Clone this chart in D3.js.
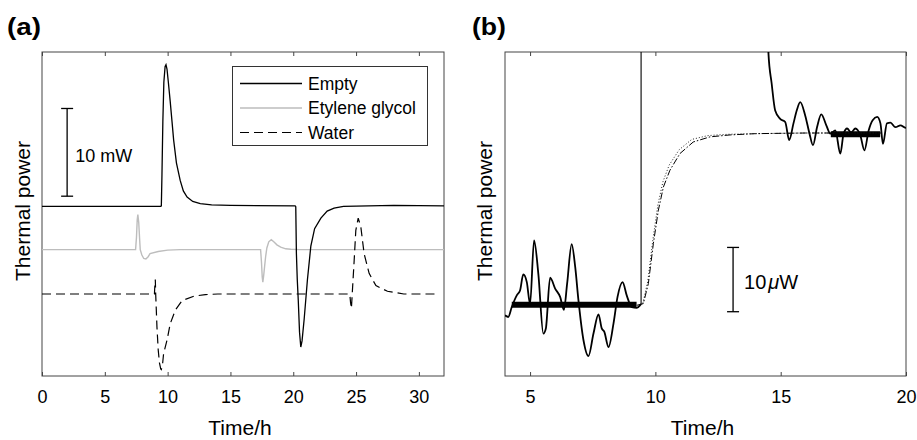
<!DOCTYPE html>
<html>
<head>
<meta charset="utf-8">
<script src="https://cdn.jsdelivr.net/npm/d3@7"></script>
<style>
  body { margin: 0; background: #fff; }
  svg text { font-family: "Liberation Sans", Arial, Helvetica, sans-serif; fill: #000; }
</style>
</head>
<body>
<div class="plot"></div>
<script>
// ---------- panel (a) : thermal power (mW, offset curves) vs time (h) ----------
var emptyTime = [0, 9.45, 9.5, 9.55, 9.62, 9.7, 9.8, 9.87, 9.95, 10.05, 10.2, 10.35, 10.48, 10.7, 11.0, 11.25, 11.55, 12.0, 12.6, 13.5, 15,
  20.15, 20.2, 20.25, 20.32, 20.4, 20.5, 20.6, 20.7, 20.87, 21.13, 21.4, 21.7, 22.2, 22.7, 23.25, 24, 28, 32];
var emptyPower = [19.35, 19.35, 19.4, 23, 29, 33.5, 35.3, 35.5, 35.0, 33.6, 31.4, 29.0, 26.9, 24.3, 22.3, 21.1, 20.4, 19.9, 19.66, 19.5, 19.45,
  19.4, 19.3, 14, 11, 8.6, 5, 3.3, 4.0, 6.5, 11, 14.8, 16.8, 18.0, 18.8, 19.15, 19.35, 19.45, 19.4];

var glycolTime = [0, 7.45, 7.52, 7.58, 7.63, 7.7, 7.78, 7.82, 7.95, 8.1, 8.27, 8.45, 8.6, 9.25, 10, 11,
  17.4, 17.47, 17.53, 17.58, 17.65, 17.72, 17.8, 17.9, 18.05, 18.25, 18.45, 18.7, 19.0, 19.4, 19.8, 20.5, 32];
var glycolPower = [14.41, 14.41, 15.8, 17.8, 18.4, 17.5, 15.4, 14.4, 13.8, 13.4, 13.35, 13.6, 13.96, 14.2, 14.35, 14.41,
  14.41, 13.0, 11.3, 10.7, 11.5, 12.5, 13.6, 14.6, 15.3, 15.55, 15.3, 14.95, 14.7, 14.5, 14.45, 14.41, 14.41];

var waterTime = [0, 8.95, 8.99, 9.02, 9.05, 9.1, 9.15, 9.25, 9.35, 9.45, 9.5, 9.6, 9.68, 9.95, 10.21, 10.61, 11.15, 12.1, 13, 14,
  24.5, 24.56, 24.63, 24.7, 24.85, 24.98, 25.17, 25.38, 25.64, 26.04, 26.58, 27.5, 28.8, 31.6];
var waterPower = [9.35, 9.35, 10.5, 11.0, 9.35, 7.5, 5.6, 3.0, 1.5, 0.8, 0.73, 1.4, 2.55, 4.07, 5.97, 7.5, 8.6, 9.1, 9.28, 9.35,
  9.35, 8.4, 7.7, 9.5, 13.2, 16.6, 18.0, 17.0, 13.96, 11.7, 10.3, 9.66, 9.35, 9.35];

var legendLabels = ["Empty", "Etylene glycol", "Water"];
var timeTicksA = [0, 5, 10, 15, 20, 25, 30];
var scaleBarA = { time: 2.0, from: 20.5, length: 10, label: "10 mW" };

// ---------- panel (b) : zoom on baseline, thermal power in µW ----------
var noiseTimeA = [4.0, 4.13, 4.27, 4.47, 4.6, 4.73, 4.87, 5.0, 5.16, 5.33, 5.53, 5.63, 5.8, 6.0, 6.2, 6.35, 6.48, 6.66, 6.8, 6.93, 7.13,
  7.33, 7.53, 7.73, 7.86, 7.96, 8.13, 8.33, 8.49, 8.69, 8.86, 9.06, 9.26, 9.39, 9.43];
var noisePowerA = [9.44, 9.18, 10.74, 12.55, 13.3, 15.8, 14.6, 11.2, 21.1, 15.9, 6.6, 7.4, 15.3, 13.6, 12.3, 10.3, 14.4, 20.5, 17.0, 11.8, 5.6,
  3.1, 6.6, 9.6, 7.4, 6.9, 4.5, 8.2, 12.3, 14.6, 12.5, 10.7, 10.6, 11.0, 11.2];
var jumpTime = [9.43, 9.43];
var jumpPower = [11.2, 60];

var noiseTimeB = [14.5, 14.51, 14.64, 14.78, 14.98, 15.18, 15.34, 15.51, 15.64, 15.78, 15.98, 16.15, 16.29, 16.45, 16.62, 16.82, 16.98,
  17.18, 17.38, 17.51, 17.65, 17.81, 17.98, 18.18, 18.34, 18.51, 18.67, 18.85, 18.98, 19.08, 19.24, 19.38, 19.58, 19.78, 19.98, 20];
var noisePowerB = [55, 50.3, 45.5, 41.3, 40.0, 39.5, 36.7, 39.3, 41.3, 42.6, 40.5, 37.7, 35.9, 38.7, 40.7, 39.0, 37.7,
  38.2, 34.6, 37.7, 38.5, 37.9, 38.5, 37.4, 35.1, 38.2, 39.8, 40.3, 39.3, 36.1, 39.3, 39.4, 38.7, 39.0, 38.6, 38.7];

// fitted curve (dash-dot) and model curve (dotted)
var fitTime = [9.26, 9.52, 9.72, 9.92, 10.12, 10.32, 10.58, 10.98, 11.51, 12.18, 12.98, 14, 16, 19];
var fitPower = [11.0, 11.26, 14.37, 20.6, 25.8, 29.4, 32.0, 34.6, 36.4, 37.2, 37.5, 37.7, 37.8, 37.8];
var modelTime = [9.5, 9.7, 9.9, 10.1, 10.3, 10.55, 10.95, 11.45, 12.1, 12.9, 14, 16, 19];
var modelPower = [11.3, 14.8, 21.2, 26.6, 30.2, 32.8, 35.2, 36.8, 37.4, 37.6, 37.7, 37.8, 37.8];

// thick baseline segments
var baselineStart = [4.27, 17.0];
var baselineEnd = [9.25, 18.97];
var baselineLevel = [11.1, 37.6];

var timeTicksB = [5, 10, 15, 20];
var scaleBarB = { time: 13.1, from: 10.0, length: 10 };

// ---------- layout ----------
var width = 917, height = 440;
var plotTop = 52, plotBottom = 376;

var svg = d3.select(".plot")
  .append("svg")
  .attr("width", width)
  .attr("height", height);

var line = function (x, y) {
  return d3.line()
    .x(function (d) { return x(d[0]); })
    .y(function (d) { return y(d[1]); });
};

// draws the box, ticks, labels of a panel and returns its clipped group
function drawFrame(id, x, ticks, letter, letterX, ylabelX) {
  var left = x.range()[0], right = x.range()[1];

  svg.append("clipPath").attr("id", id)
    .append("rect")
    .attr("x", left).attr("y", plotTop)
    .attr("width", right - left).attr("height", plotBottom - plotTop);

  // bottom axis, ticks pointing inward
  var bottom = svg.append("g")
    .attr("transform", "translate(0," + plotBottom + ")")
    .call(d3.axisBottom(x).tickValues(ticks).tickSizeInner(-4).tickSizeOuter(0).tickPadding(14));
  bottom.select(".domain").remove();
  bottom.selectAll("line").attr("stroke", "#444");
  bottom.selectAll("text").attr("font-size", 18).attr("fill", "#1a1a1a");

  // top axis mirrored ticks
  var top = svg.append("g")
    .attr("transform", "translate(0," + plotTop + ")")
    .call(d3.axisTop(x).tickValues(ticks).tickSizeInner(-4).tickSizeOuter(0).tickFormat(""));
  top.select(".domain").remove();
  top.selectAll("line").attr("stroke", "#444");

  // box
  svg.append("rect")
    .attr("x", left).attr("y", plotTop)
    .attr("width", right - left).attr("height", plotBottom - plotTop)
    .attr("fill", "none")
    .attr("stroke", "#444")
    .attr("stroke-width", 1);

  // axis labels
  svg.append("text")
    .attr("x", (left + right) / 2 - 3)
    .attr("y", 435)
    .attr("text-anchor", "middle")
    .attr("font-size", 21)
    .text("Time/h");

  svg.append("text")
    .attr("transform", "translate(" + ylabelX + "," + ((plotTop + plotBottom) / 2 - 3) + ") rotate(-90)")
    .attr("text-anchor", "middle")
    .attr("font-size", 21)
    .text("Thermal power");

  // panel letter
  svg.append("text")
    .attr("x", letterX)
    .attr("y", 35)
    .attr("font-size", 24)
    .attr("font-weight", "bold")
    .attr("textLength", 34)
    .attr("lengthAdjust", "spacingAndGlyphs")
    .text(letter);

  return svg.append("g").attr("clip-path", "url(#" + id + ")");
}

function scaleBar(g, x, y, bar) {
  var bx = x(bar.time), y0 = y(bar.from), y1 = y(bar.from + bar.length);
  g.append("line").attr("x1", bx).attr("x2", bx).attr("y1", y0).attr("y2", y1);
  g.append("line").attr("x1", bx - 6).attr("x2", bx + 6).attr("y1", y0).attr("y2", y0);
  g.append("line").attr("x1", bx - 6).attr("x2", bx + 6).attr("y1", y1).attr("y2", y1);
  g.selectAll("line").attr("stroke", "#000").attr("stroke-width", 1.3);
  return { x: bx, mid: (y0 + y1) / 2 };
}

// ================= panel (a) =================
var xA = d3.scaleLinear().domain([0, 32]).range([42, 444]);
var yA = d3.scaleLinear().domain([0, 36.94]).range([plotBottom, plotTop]);
var gA = drawFrame("clipA", xA, timeTicksA, "(a)", 7, 30);

var seriesA = [
  { time: glycolTime, power: glycolPower, color: "#bdbdbd", dash: null, w: 1.4 },
  { time: waterTime, power: waterPower, color: "#000", dash: "9,5", w: 1.2 },
  { time: emptyTime, power: emptyPower, color: "#000", dash: null, w: 1.3 }
];

seriesA.forEach(function (s) {
  gA.append("path")
    .datum(d3.zip(s.time, s.power))
    .attr("d", line(xA, yA))
    .attr("fill", "none")
    .attr("stroke", s.color)
    .attr("stroke-width", s.w)
    .attr("stroke-dasharray", s.dash);
});

var barA = scaleBar(svg.append("g"), xA, yA, scaleBarA);
svg.append("text")
  .attr("x", barA.x + 8)
  .attr("y", barA.mid + 10)
  .attr("font-size", 18)
  .text(scaleBarA.label);

// legend
var legend = svg.append("g");
legend.append("rect")
  .attr("x", 232.5).attr("y", 66.5)
  .attr("width", 195).attr("height", 79)
  .attr("fill", "#fff")
  .attr("stroke", "#333")
  .attr("stroke-width", 1);

var legendStyle = [seriesA[2], seriesA[0], seriesA[1]];
legendLabels.forEach(function (lab, i) {
  var ly = 83.5 + i * 24.5;
  legend.append("line")
    .attr("x1", 240).attr("x2", 302)
    .attr("y1", ly).attr("y2", ly)
    .attr("stroke", legendStyle[i].color)
    .attr("stroke-width", legendStyle[i].w)
    .attr("stroke-dasharray", legendStyle[i].dash);
  legend.append("text")
    .attr("x", 308)
    .attr("y", ly + 6)
    .attr("font-size", 17.5)
    .text(lab);
});

// ================= panel (b) =================
var xB = d3.scaleLinear().domain([4, 20]).range([505, 906]);
var yB = d3.scaleLinear().domain([0, 50.4]).range([plotBottom, plotTop]);
var gB = drawFrame("clipB", xB, timeTicksB, "(b)", 472, 492);

// thick baseline estimates
baselineStart.forEach(function (t0, i) {
  gB.append("path")
    .datum([[t0, baselineLevel[i]], [baselineEnd[i], baselineLevel[i]]])
    .attr("d", line(xB, yB))
    .attr("stroke", "#000")
    .attr("stroke-width", 6);
});

gB.append("path")
  .datum(d3.zip(modelTime, modelPower))
  .attr("d", line(xB, yB))
  .attr("fill", "none")
  .attr("stroke", "#222")
  .attr("stroke-width", 1)
  .attr("stroke-dasharray", "1,2");

gB.append("path")
  .datum(d3.zip(fitTime, fitPower))
  .attr("d", line(xB, yB))
  .attr("fill", "none")
  .attr("stroke", "#000")
  .attr("stroke-width", 1)
  .attr("stroke-dasharray", "7,2,1.5,2");

gB.append("path")
  .datum(d3.zip(jumpTime, jumpPower))
  .attr("d", line(xB, yB))
  .attr("fill", "none")
  .attr("stroke", "#000")
  .attr("stroke-width", 1.1);

[[noiseTimeA, noisePowerA], [noiseTimeB, noisePowerB]].forEach(function (s) {
  gB.append("path")
    .datum(d3.zip(s[0], s[1]))
    .attr("d", line(xB, yB).curve(d3.curveMonotoneX))
    .attr("fill", "none")
    .attr("stroke", "#000")
    .attr("stroke-width", 1.8)
    .attr("stroke-linejoin", "round");
});

var barB = scaleBar(svg.append("g"), xB, yB, scaleBarB);
var lblB = svg.append("text")
  .attr("x", barB.x + 11)
  .attr("y", barB.mid + 9)
  .attr("font-size", 20);
lblB.append("tspan").text("10");
lblB.append("tspan").attr("dx", 2).attr("font-style", "italic").text("\u03bc");
lblB.append("tspan").text("W");
</script>
</body>
</html>
